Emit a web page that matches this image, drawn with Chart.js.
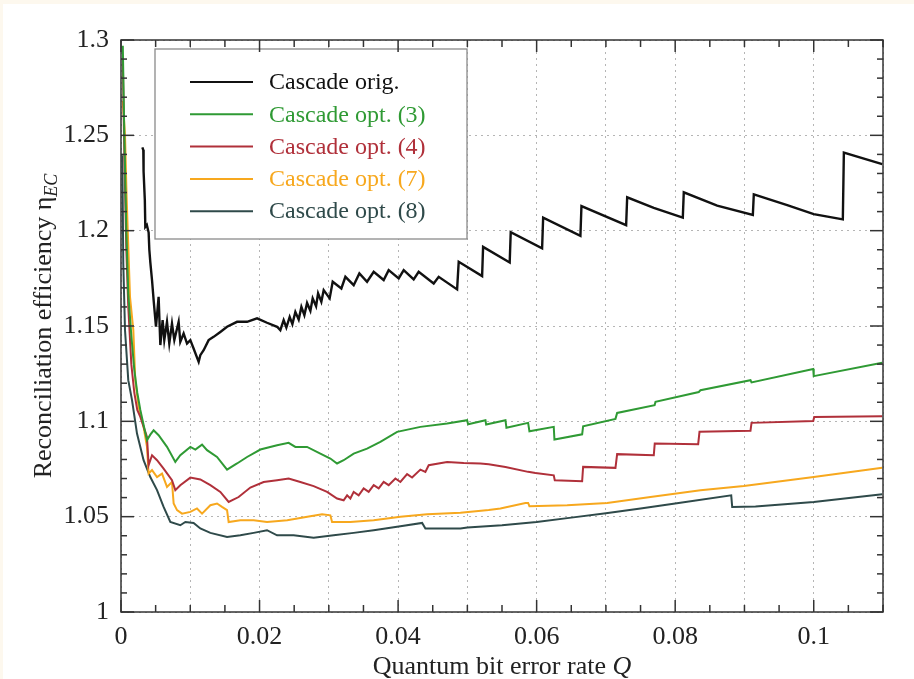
<!DOCTYPE html>
<html>
<head>
<meta charset="utf-8">
<script src="https://cdn.jsdelivr.net/npm/chart.js@4.4.0/dist/chart.umd.min.js"></script>
<style>
html, body { margin: 0; padding: 0; background: #fdf8ee; }
#wrap { position: absolute; left: 0; top: 0; width: 914px; height: 679px; }
</style>
</head>
<body>
<div id="wrap"><canvas id="mainChart" width="914" height="679"></canvas></div>
<script>
// series names + colours
const seriesNames = ['Cascade orig.', 'Cascade opt. (3)', 'Cascade opt. (4)', 'Cascade opt. (7)', 'Cascade opt. (8)'];
const seriesColors = ['#111111', '#2f9a34', '#b0303a', '#f7a81e', '#2f4a4a'];
const seriesWidths = [2.4, 2, 2, 2, 2];

// [Q, efficiency]
const cascadeOrig = [[0.00308,1.2437],[0.00322,1.2423],[0.00326,1.231],[0.00344,1.216],[0.00351,1.202],[0.00373,1.203],[0.00399,1.199],[0.00409,1.19],[0.00423,1.1835],[0.00448,1.174],[0.00471,1.1636],[0.00505,1.1496],[0.00543,1.1653],[0.00568,1.140],[0.00601,1.1531],[0.00625,1.1426],[0.00664,1.1522],[0.00697,1.1408],[0.00736,1.1513],[0.0077,1.1426],[0.00832,1.1522],[0.00856,1.1417],[0.00904,1.1461],[0.00953,1.1408],[0.01001,1.1426],[0.01048,1.1382],[0.01121,1.1312],[0.01145,1.1347],[0.01193,1.1373],[0.01265,1.1426],[0.01337,1.1443],[0.01434,1.1469],[0.01531,1.1496],[0.01675,1.1522],[0.0182,1.1522],[0.01964,1.154],[0.02108,1.1517],[0.02253,1.1496],[0.023,1.1478],[0.02348,1.1531],[0.02387,1.1492],[0.02435,1.1548],[0.02474,1.151],[0.02517,1.1574],[0.02565,1.1534],[0.02604,1.160],[0.02647,1.1557],[0.02686,1.1621],[0.02734,1.158],[0.02767,1.1645],[0.02816,1.1604],[0.02845,1.1671],[0.02892,1.1627],[0.02926,1.1688],[0.03012,1.1645],[0.03056,1.1732],[0.03181,1.1697],[0.03239,1.1758],[0.03359,1.1714],[0.03441,1.1776],[0.03552,1.1732],[0.03648,1.1784],[0.03792,1.1741],[0.03864,1.1793],[0.04009,1.175],[0.04081,1.1793],[0.04225,1.1744],[0.04297,1.1784],[0.04514,1.1723],[0.04586,1.1758],[0.04852,1.1692],[0.04875,1.1837],[0.05213,1.1762],[0.05227,1.1915],[0.05611,1.1833],[0.05626,1.1992],[0.06079,1.1907],[0.06094,1.2068],[0.06632,1.1973],[0.06647,1.2129],[0.07292,1.2029],[0.07307,1.2175],[0.07691,1.212],[0.0811,1.2068],[0.08124,1.2201],[0.08606,1.2131],[0.09121,1.2082],[0.09135,1.219],[0.09617,1.2134],[0.1,1.2087],[0.1042,1.2059],[0.10435,1.2409],[0.10989,1.2349]];

const cascadeOpt3 = [[0.00026,1.297],[0.00048,1.25],[0.00077,1.2],[0.00105,1.167],[0.00149,1.145],[0.00192,1.127],[0.00235,1.115],[0.00279,1.106],[0.00375,1.0901],[0.00423,1.093],[0.00471,1.0953],[0.00543,1.0927],[0.00664,1.0866],[0.00784,1.0787],[0.00856,1.0822],[0.01001,1.0866],[0.01073,1.0852],[0.0117,1.0878],[0.01242,1.0849],[0.01386,1.0813],[0.01531,1.0747],[0.01675,1.0779],[0.0182,1.0813],[0.02012,1.0852],[0.02253,1.0875],[0.0242,1.0887],[0.02517,1.0866],[0.02686,1.0866],[0.02878,1.0831],[0.03022,1.0805],[0.03119,1.0779],[0.03214,1.0796],[0.03359,1.0831],[0.03552,1.0857],[0.03744,1.0892],[0.03986,1.0945],[0.04322,1.0971],[0.04708,1.0989],[0.04996,1.1006],[0.05011,1.0985],[0.05261,1.1006],[0.05271,1.0983],[0.0555,1.1006],[0.05564,1.0966],[0.05877,1.0992],[0.05896,1.0948],[0.06247,1.0971],[0.06257,1.0905],[0.06657,1.0932],[0.06671,1.0974],[0.07138,1.1013],[0.07162,1.1044],[0.07703,1.1085],[0.07716,1.1102],[0.08341,1.1154],[0.08365,1.1163],[0.09087,1.1216],[0.09102,1.1204],[0.09993,1.1274],[0.1,1.1237],[0.10989,1.1307]];

const cascadeOpt4 = [[0.00026,1.29],[0.00048,1.24],[0.00077,1.19],[0.00105,1.16],[0.00149,1.13],[0.00192,1.115],[0.00235,1.106],[0.00279,1.1023],[0.00375,1.0918],[0.00399,1.077],[0.00448,1.0822],[0.0052,1.0796],[0.00615,1.0752],[0.00736,1.0691],[0.00784,1.0639],[0.00856,1.0665],[0.01001,1.0705],[0.01145,1.0695],[0.0129,1.0665],[0.01434,1.063],[0.01554,1.0577],[0.01698,1.0603],[0.01867,1.0653],[0.02059,1.0682],[0.02253,1.0691],[0.0242,1.07],[0.02589,1.0682],[0.02781,1.066],[0.02975,1.063],[0.03119,1.0595],[0.03214,1.0586],[0.03264,1.0612],[0.03311,1.0595],[0.03359,1.063],[0.03431,1.0612],[0.03503,1.0648],[0.03575,1.063],[0.03648,1.0665],[0.0372,1.0648],[0.03792,1.0682],[0.03864,1.0665],[0.03961,1.07],[0.04033,1.0682],[0.0413,1.0723],[0.04202,1.0705],[0.04322,1.0747],[0.04394,1.0735],[0.04442,1.077],[0.04708,1.0787],[0.04947,1.0782],[0.05188,1.0779],[0.05308,1.0775],[0.0555,1.0761],[0.05877,1.0735],[0.05983,1.0729],[0.06247,1.0717],[0.06262,1.0691],[0.06657,1.0686],[0.06671,1.0761],[0.07138,1.0756],[0.07162,1.0828],[0.07691,1.0822],[0.07705,1.0884],[0.08332,1.088],[0.08351,1.0945],[0.09087,1.095],[0.09102,1.0992],[0.09993,1.1002],[0.10007,1.1023],[0.10989,1.1027]];

const cascadeOpt7 = [[0.00026,1.268],[0.00058,1.25],[0.00081,1.2178],[0.0013,1.1653],[0.00178,1.1478],[0.00206,1.1216],[0.00254,1.1076],[0.00326,1.0971],[0.00375,1.0866],[0.00399,1.0726],[0.00448,1.0744],[0.0052,1.0708],[0.00592,1.0726],[0.00664,1.0656],[0.00736,1.0682],[0.0076,1.0569],[0.00809,1.0534],[0.00881,1.0516],[0.01001,1.0525],[0.01097,1.0543],[0.0117,1.0516],[0.0129,1.056],[0.01386,1.0569],[0.01458,1.0551],[0.01531,1.0534],[0.01554,1.0472],[0.01723,1.0481],[0.01915,1.0481],[0.02108,1.0472],[0.024,1.0481],[0.0269,1.0499],[0.02903,1.0513],[0.03022,1.0507],[0.03047,1.0472],[0.03311,1.0472],[0.03648,1.0481],[0.04033,1.0499],[0.04419,1.0513],[0.049,1.052],[0.05308,1.0535],[0.05477,1.0543],[0.05838,1.0572],[0.05877,1.0572],[0.05896,1.0555],[0.0644,1.056],[0.07018,1.0572],[0.07643,1.0603],[0.08365,1.0639],[0.08991,1.0661],[0.1,1.0708],[0.10989,1.0756]];

const cascadeOpt8 = [[0.00019,1.2396],[0.00033,1.1828],[0.00058,1.1478],[0.00105,1.1216],[0.00159,1.1111],[0.00231,1.0936],[0.00326,1.0796],[0.00423,1.0708],[0.0052,1.0639],[0.00615,1.0551],[0.00712,1.0472],[0.00856,1.0455],[0.00929,1.0472],[0.01048,1.0467],[0.01145,1.0438],[0.0129,1.0415],[0.01531,1.0394],[0.01723,1.0402],[0.01915,1.0415],[0.02108,1.0429],[0.02253,1.0402],[0.02492,1.0402],[0.02781,1.039],[0.0307,1.0402],[0.03359,1.0415],[0.03648,1.0429],[0.04033,1.045],[0.04347,1.0467],[0.04394,1.0438],[0.049,1.0438],[0.05,1.0443],[0.055,1.0455],[0.06,1.0472],[0.065,1.0495],[0.07,1.0518],[0.075,1.0543],[0.08,1.0569],[0.08809,1.0612],[0.08823,1.0551],[0.0916,1.0553],[0.1,1.0577],[0.10989,1.0618]];

const allSeries = [cascadeOrig, cascadeOpt3, cascadeOpt4, cascadeOpt7, cascadeOpt8];

const serif = '"Liberation Serif", "Times New Roman", serif';

const bgPlugin = {
    id: 'bg',
    beforeDraw(chart) {
        const ctx = chart.ctx;
        ctx.save();
        ctx.fillStyle = '#fdf8ee';
        ctx.fillRect(0, 0, chart.width, chart.height);
        ctx.fillStyle = '#ffffff';
        ctx.fillRect(3, 4, chart.width - 3, chart.height - 4);
        ctx.restore();
    }
};

// frame, inward ticks on all 4 sides, legend box, axis titles
const decoPlugin = {
    id: 'deco',
    afterDatasetsDraw(chart) {
        const ctx = chart.ctx;
        const a = chart.chartArea;
        const x = chart.scales.x, y = chart.scales.y;
        ctx.save();

        // legend
        const lx = a.left + 34, ly = a.top + 9, lw = 312, lh = 190;
        ctx.fillStyle = '#fff';
        ctx.fillRect(lx, ly, lw, lh);
        ctx.strokeStyle = '#8a8a8a';
        ctx.lineWidth = 1.3;
        ctx.strokeRect(lx, ly, lw, lh);
        ctx.font = '24px ' + serif;
        ctx.textBaseline = 'middle';
        seriesNames.forEach((name, i) => {
            const ry = ly + 33 + i * 32.3;
            ctx.strokeStyle = seriesColors[i];
            ctx.lineWidth = 2;
            ctx.beginPath();
            ctx.moveTo(lx + 35, ry);
            ctx.lineTo(lx + 98, ry);
            ctx.stroke();
            ctx.fillStyle = seriesColors[i];
            ctx.fillText(name, lx + 114, ry + 1);
        });

        // ticks
        ctx.strokeStyle = '#333';
        ctx.lineWidth = 1.5;
        const seg = (x1, y1, x2, y2) => { ctx.beginPath(); ctx.moveTo(x1, y1); ctx.lineTo(x2, y2); ctx.stroke(); };
        for (let i = 0; i <= 22; i++) {
            const px = x.getPixelForValue(i * 0.005);
            const len = i % 4 === 0 ? 12 : 7;
            seg(px, a.bottom, px, a.bottom - len);
            seg(px, a.top, px, a.top + len);
        }
        for (let i = 0; i <= 30; i++) {
            const py = y.getPixelForValue(1 + i * 0.01);
            const len = i % 5 === 0 ? 13 : 6;
            seg(a.left, py, a.left + len, py);
            seg(a.right, py, a.right - len, py);
        }
        ctx.strokeRect(a.left, a.top, a.right - a.left, a.bottom - a.top);

        // x title
        ctx.fillStyle = '#222';
        ctx.textBaseline = 'alphabetic';
        const t1 = 'Quantum bit error rate ';
        ctx.font = 'italic 26px ' + serif;
        const wq = ctx.measureText('Q').width;
        ctx.font = '26px ' + serif;
        const w1 = ctx.measureText(t1).width;
        const cx = (a.left + a.right) / 2;
        const sx = cx - (w1 + wq) / 2;
        ctx.fillText(t1, sx, 674);
        ctx.font = 'italic 26px ' + serif;
        ctx.fillText('Q', sx + w1, 674);

        // y title (rotated)
        ctx.translate(51, (a.top + a.bottom) / 2);
        ctx.rotate(-Math.PI / 2);
        const t2 = 'Reconciliation efficiency \u03b7';
        ctx.font = '26px ' + serif;
        const w2 = ctx.measureText(t2).width;
        ctx.font = 'italic 18px ' + serif;
        const ws = ctx.measureText('EC').width;
        const sy = -(w2 + ws) / 2;
        ctx.font = '26px ' + serif;
        ctx.fillText(t2, sy, 0);
        ctx.font = 'italic 18px ' + serif;
        ctx.fillText('EC', sy + w2, 6);
        ctx.restore();
    }
};

const ctxLine = document.getElementById('mainChart').getContext('2d');
const lineChart = new Chart(ctxLine, {
    type: 'line',
    data: {
        datasets: allSeries.map((s, i) => ({
            label: seriesNames[i],
            data: s.map(p => ({ x: p[0], y: p[1] })),
            borderColor: seriesColors[i],
            borderWidth: seriesWidths[i],
            pointRadius: 0,
            tension: 0,
            fill: false
        }))
    },
    options: {
        responsive: false,
        animation: false,
        layout: { padding: { top: 40, right: 31, left: 0, bottom: 0 } },
        scales: {
            x: {
                type: 'linear',
                min: 0, max: 0.11,
                afterFit: s => { s.height = 67; },
                grid: { color: '#b5b5b5', lineWidth: 1, drawTicks: false },
                border: { display: false, dash: [2, 4] },
                ticks: {
                    stepSize: 0.01,
                    autoSkip: false,
                    maxRotation: 0,
                    padding: 10,
                    color: '#222',
                    font: { family: serif, size: 26 },
                    callback: v => (Math.round(v * 100) % 2 === 0 ? String(+v.toFixed(2)) : '')
                }
            },
            y: {
                min: 1, max: 1.3,
                afterFit: s => { s.width = 121; },
                grid: { color: '#b5b5b5', lineWidth: 1, drawTicks: false },
                border: { display: false, dash: [2, 4] },
                ticks: {
                    stepSize: 0.05,
                    padding: 12,
                    color: '#222',
                    font: { family: serif, size: 26 },
                    callback: v => String(+v.toFixed(2))
                }
            }
        },
        plugins: {
            legend: { display: false },
            tooltip: { enabled: false }
        }
    },
    plugins: [bgPlugin, decoPlugin]
});
</script>
</body>
</html>
